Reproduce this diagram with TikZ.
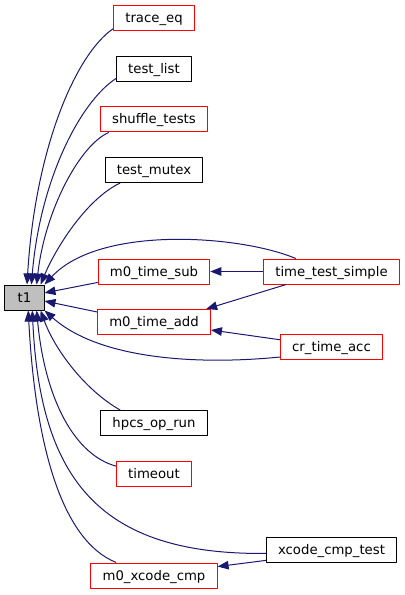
\documentclass[tikz,border=0pt]{standalone}
\usepackage{fontspec}
\setmainfont{DejaVu Sans}
\usetikzlibrary{arrows.meta}
\definecolor{edgeblue}{HTML}{191970}
\definecolor{nodegray}{HTML}{BFBFBF}
\begin{document}
\begin{tikzpicture}[x=1bp, y=-1bp, line join=round,
	font=\fontsize{13.3}{16}\selectfont,
	fn/.style={draw=black, line width=1bp, fill=white, minimum height=25bp, inner xsep=11.7bp, inner ysep=0pt, text height=11bp, text depth=2bp},
	redfn/.style={fn, draw=red},
	edge/.style={draw=edgeblue, line width=1bp, -{Triangle[length=11bp,width=8.5bp]}}]
		\useasboundingbox (0,0) rectangle (404,595);
		\node[fn, fill=nodegray, minimum width=39bp, inner xsep=0pt] (t1) at (24.5,297.5) {t1};
		\node[redfn] (traceeq) at (154,18.5) {trace\_eq};
		\node[fn] (testlist) at (154,69) {test\_list};
		\node[redfn] (shuffletests) at (154,119.5) {shuffle\_tests};
		\node[fn] (testmutex) at (154,170) {test\_mutex};
		\node[redfn] (m0timesub) at (154,271.5) {m0\_time\_sub};
		\node[redfn] (m0timeadd) at (154,322) {m0\_time\_add};
		\node[fn] (hpcsoprun) at (154,423) {hpcs\_op\_run};
		\node[redfn] (timeout) at (154,473.5) {timeout};
		\node[redfn] (m0xcodecmp) at (154,575.5) {m0\_xcode\_cmp};
		\node[redfn] (timetestsimple) at (331.5,271.5) {time\_test\_simple};
		\node[redfn] (crtimeacc) at (331.5,347) {cr\_time\_acc};
		\node[fn] (xcodecmptest) at (331.5,550) {xcode\_cmp\_test};
		\draw[edge] (traceeq.194) .. controls (75,55) and (35,150) .. (t1.79);
		\draw[edge] (testlist.194) .. controls (80,102) and (40,180) .. (t1.62);
		\draw[edge] (shuffletests.196) .. controls (80,145) and (45,210) .. (t1.47);
		\draw[edge] (testmutex.201) .. controls (85,200) and (55,250) .. (t1.39);
		\draw[edge] (timetestsimple.160) .. controls (240,235) and (100,225) .. (t1.north east);
		\draw[edge] (m0timesub.191) -- (t1.13);
		\draw[edge] (m0timeadd.170) -- (t1.-10);
		\draw[edge] (crtimeacc.191) .. controls (200,365) and (100,360) .. (t1.south east);
		\draw[edge] (hpcsoprun.159) .. controls (85,390) and (55,350) .. (t1.-39);
		\draw[edge] (timeout.169) .. controls (75,455) and (45,400) .. (t1.-47);
		\draw[edge] (xcodecmptest.183) .. controls (100,555) and (40,480) .. (t1.-59);
		\draw[edge] (m0xcodecmp.161) .. controls (60,540) and (35,440) .. (t1.-74);
		\draw[edge] (timetestsimple.west) -- (m0timesub.east);
		\draw[edge] (timetestsimple.196) -- (m0timeadd.14);
		\draw[edge] (crtimeacc.172) -- (m0timeadd.352);
		\draw[edge] (xcodecmptest.189) -- (m0xcodecmp.8);
\end{tikzpicture}
\end{document}
